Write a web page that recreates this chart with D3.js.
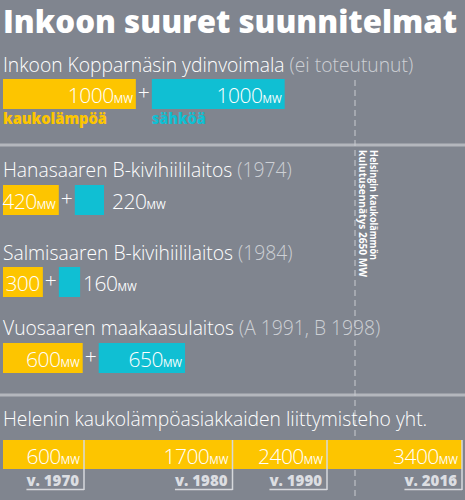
<!DOCTYPE html>
<html><head><meta charset="utf-8">
<script src="https://cdn.jsdelivr.net/npm/d3@7"></script>
<style>
html,body{margin:0;padding:0;background:#80858f;}
svg{display:block;}
text{font-family:"Open Sans","Noto Sans",sans-serif;}
</style></head>
<body>
<script>
// ---- data ----
const title = "Inkoon suuret suunnitelmat";
const plantNames = ["Inkoon Kopparnäsin ydinvoimala", "Hanasaaren B-kivihiililaitos", "Salmisaaren B-kivihiililaitos", "Vuosaaren maakaasulaitos"];
const plantNotes = ["(ei toteutunut)", "(1974)", "(1984)", "(A 1991, B 1998)"];
const plantHeat = [1000, 420, 300, 600];
const plantPower = [1000, 220, 160, 650];
const heatLabels = ["1000", "420", "300", "600"];
const heatUnit = ["MW", "MW", "", "MW"];
const legendLabels = ["kaukolämpöä", "sähköä"];
const totalTitle = "Helenin kaukolämpöasiakkaiden liittymisteho yht.";
const totalYears = ["v. 1970", "v. 1980", "v. 1990", "v. 2016"];
const totalValues = [600, 1700, 2400, 3400];
const recordValue = 2650;
const recordLines = ["Helsingin kaukolämmön", "kulutusennätys 2650 MW"];

// ---- layout ----
const W = 465, H = 500;
const YEL = "#fdc500", CYAN = "#10bfd3", BG = "#80858f";
const svg = d3.select("body").append("svg").attr("width", W).attr("height", H);
svg.append("rect").attr("width", W).attr("height", H).attr("fill", BG);

// scale for the plant bars (and the record line), scale for the total bar
const x = d3.scaleLinear().domain([0, 2650]).range([3, 355]);
const xT = d3.scaleLinear().domain([0, 3400]).range([3, 462]);

// title
svg.append("text").attr("x", 3).attr("y", 33).attr("fill", "#fff")
  .attr("font-size", 31).attr("font-weight", 800)
  .attr("textLength", 454).attr("lengthAdjust", "spacingAndGlyphs").text(title);

// separators
[145, 395].forEach(y => svg.append("rect").attr("x", 0).attr("y", y - 1.5).attr("width", W).attr("height", 3).attr("fill", "#b4b7bd"));

// dashed record line
const rx = x(recordValue);
svg.append("line").attr("x1", rx).attr("x2", rx).attr("y1", 80).attr("y2", H)
  .attr("stroke", "#c9cbd0").attr("stroke-width", 1).attr("stroke-dasharray", "6,4");

const rg = svg.append("g").attr("transform", `translate(${rx + 15},150) rotate(90)`);
recordLines.forEach((t, i) => rg.append("text").attr("x", 0).attr("y", i * 11.5)
  .attr("fill", "#fff").attr("font-size", 10.5).attr("font-weight", 700)
  .attr("font-family", "'Liberation Sans Narrow','DejaVu Sans Condensed',sans-serif")
  .attr("textLength", i === 0 ? 110 : 127).attr("lengthAdjust", "spacingAndGlyphs").text(t));

// plants
const titleY = [72, 177, 260, 335];
const barY = [79, 185, 267, 343];
const barH = 30;
const gap = 16;
const TFS = 19.3;

function mwText(g, xx, y, num, unit, anchor, size) {
  const t = g.append("text").attr("x", xx).attr("y", y).attr("fill", "#fff")
    .attr("text-anchor", anchor).attr("font-size", size).attr("font-weight", 300)
    .attr("font-family", "'Open Sans','Noto Sans',sans-serif").attr("letter-spacing", -0.5);
  t.append("tspan").text(num);
  if (unit) t.append("tspan").attr("font-size", size * 0.5).attr("font-weight", 400).attr("letter-spacing", 0).text(unit);
  return t;
}

plantNames.forEach((name, i) => {
  const g = svg.append("g");
  const tt = g.append("text").attr("x", 3).attr("y", titleY[i]).attr("font-size", TFS).attr("font-weight", 300);
  tt.append("tspan").attr("fill", "#fff").text(name + " ");
  tt.append("tspan").attr("fill", "#cdd0d5").text(plantNotes[i]);

  const y0 = barY[i];
  const hx1 = x(plantHeat[i]);
  g.append("rect").attr("x", x(0)).attr("y", y0).attr("width", hx1 - x(0)).attr("height", barH).attr("fill", YEL);
  mwText(g, hx1 - 3, y0 + 24, heatLabels[i], heatUnit[i], "end", 21);

  g.append("text").attr("x", hx1 + gap / 2).attr("y", y0 + 21).attr("text-anchor", "middle")
    .attr("fill", "#fff").attr("font-size", 21).attr("font-weight", 300).text("+");

  const px0 = hx1 + gap;
  const pw = x(plantPower[i]) - x(0);
  g.append("rect").attr("x", px0).attr("y", y0).attr("width", pw).attr("height", barH).attr("fill", CYAN);
  if (pw > 60) mwText(g, px0 + pw - 3, y0 + 24, String(plantPower[i]), "MW", "end", 21);
  else mwText(g, px0 + pw + (pw > 25 ? 8 : 3), y0 + 24, String(plantPower[i]), "MW", "start", 21);

  if (i === 0) {
    g.append("text").attr("x", 3).attr("y", y0 + 45).attr("fill", YEL).attr("font-size", 15).attr("font-weight", 800)
      .attr("textLength", 104).attr("lengthAdjust", "spacingAndGlyphs").text(legendLabels[0]);
    g.append("text").attr("x", px0).attr("y", y0 + 45).attr("fill", CYAN).attr("font-size", 15).attr("font-weight", 800)
      .attr("textLength", 54).attr("lengthAdjust", "spacingAndGlyphs").text(legendLabels[1]);
  }
});

// totals
svg.append("text").attr("x", 3).attr("y", 426).attr("fill", "#fff").attr("font-size", TFS).attr("font-weight", 300).text(totalTitle);
const ty = 440, th = 29;
svg.append("rect").attr("x", xT(0)).attr("y", ty).attr("width", xT(d3.max(totalValues)) - xT(0)).attr("height", th).attr("fill", YEL);
totalValues.forEach((v, i) => {
  const xe = xT(v);
  svg.append("line").attr("x1", xe).attr("x2", xe).attr("y1", ty).attr("y2", 490).attr("stroke", "#d6d8dc").attr("stroke-width", 1.5);
  mwText(svg, xe - 4, ty + 24, String(v), "MW", "end", 21);
  const lab = svg.append("text").attr("x", xe - 5).attr("y", 486).attr("text-anchor", "end")
    .attr("fill", "#dcdee2").attr("font-size", 15).attr("font-weight", 800).text(totalYears[i]);
  const w = lab.node().getComputedTextLength();
  svg.append("line").attr("x1", xe - 5 - w).attr("x2", xe).attr("y1", 489.5).attr("y2", 489.5).attr("stroke", "#d6d8dc").attr("stroke-width", 1.5);
});
</script>
</body></html>
